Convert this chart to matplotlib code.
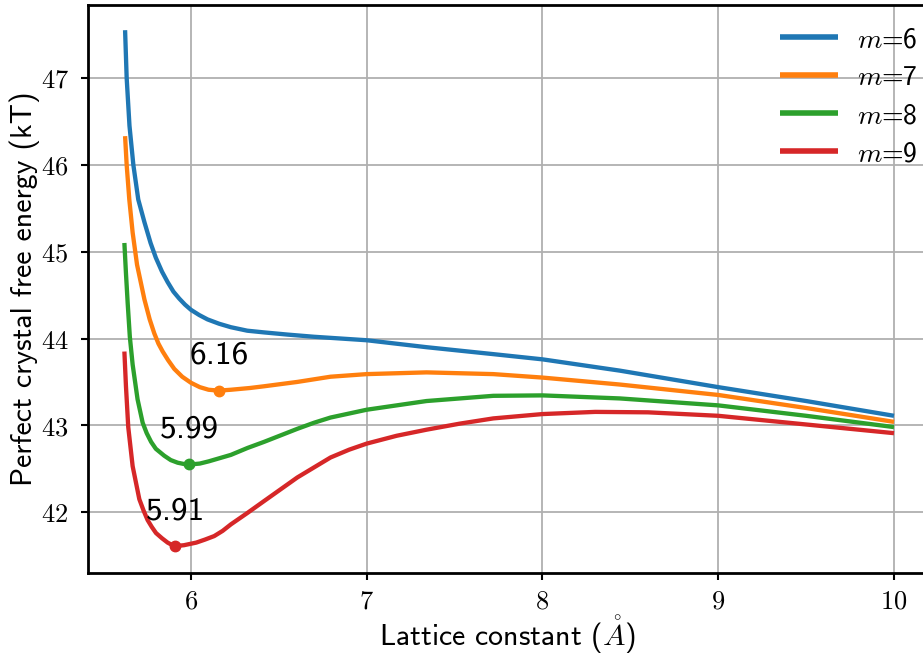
import matplotlib
matplotlib.use("Agg")
import matplotlib.pyplot as plt
from matplotlib.ticker import FuncFormatter, MultipleLocator

plt.rcParams['mathtext.fontset'] = 'cm'
plt.rcParams['axes.unicode_minus'] = False

# ---- data ----
labels = ["$m$=6", "$m$=7", "$m$=8", "$m$=9"]
colors = ["#1f77b4", "#ff7f0e", "#2ca02c", "#d62728"]

x_m6 = [5.625, 5.634, 5.650, 5.672, 5.700, 5.735, 5.770, 5.800, 5.835, 5.867, 5.900,
        5.933, 5.966, 6.000, 6.047, 6.094, 6.160, 6.227, 6.320, 6.417, 6.550, 6.700,
        7.000, 7.340, 7.720, 8.000, 8.440, 9.000, 9.500, 10.000]
y_m6 = [47.55, 47.00, 46.45, 46.00, 45.60, 45.34, 45.10, 44.93, 44.77, 44.65, 44.54,
        44.46, 44.39, 44.33, 44.27, 44.22, 44.17, 44.13, 44.09, 44.07, 44.045, 44.02,
        43.98, 43.90, 43.82, 43.76, 43.63, 43.44, 43.28, 43.11]

x_m7 = [5.625, 5.634, 5.649, 5.668, 5.693, 5.735, 5.765, 5.791, 5.815, 5.839, 5.870,
        5.905, 5.950, 6.000, 6.050, 6.100, 6.157, 6.227, 6.335, 6.416, 6.605, 6.794,
        7.000, 7.340, 7.720, 8.000, 8.440, 9.000, 9.500, 10.000]
y_m7 = [46.33, 46.00, 45.60, 45.22, 44.85, 44.45, 44.22, 44.06, 43.94, 43.85, 43.75,
        43.65, 43.56, 43.49, 43.44, 43.41, 43.40, 43.41, 43.43, 43.45, 43.50, 43.56,
        43.59, 43.61, 43.59, 43.55, 43.47, 43.35, 43.20, 43.04]

x_m8 = [5.621, 5.630, 5.640, 5.652, 5.668, 5.696, 5.725, 5.748, 5.773, 5.800, 5.848,
        5.885, 5.924, 5.960, 5.996, 6.050, 6.100, 6.227, 6.322, 6.416, 6.605, 6.700,
        6.794, 7.000, 7.340, 7.720, 8.000, 8.440, 9.000, 9.500, 10.000]
y_m8 = [45.10, 44.75, 44.40, 44.02, 43.70, 43.30, 43.03, 42.91, 42.81, 42.73, 42.65,
        42.60, 42.57, 42.555, 42.55, 42.56, 42.585, 42.66, 42.74, 42.81, 42.96, 43.03,
        43.09, 43.18, 43.28, 43.34, 43.345, 43.31, 43.23, 43.11, 42.98]

x_m9 = [5.621, 5.630, 5.643, 5.668, 5.706, 5.730, 5.753, 5.777, 5.801, 5.835, 5.867,
        5.890, 5.909, 5.960, 6.030, 6.080, 6.132, 6.180, 6.227, 6.320, 6.417, 6.605,
        6.794, 6.900, 7.000, 7.170, 7.340, 7.530, 7.720, 8.000, 8.300, 8.600, 9.000,
        9.500, 10.000]
y_m9 = [43.85, 43.45, 42.98, 42.53, 42.15, 42.02, 41.91, 41.83, 41.76, 41.70, 41.65,
        41.625, 41.61, 41.62, 41.65, 41.685, 41.725, 41.785, 41.86, 41.99, 42.13, 42.40,
        42.63, 42.72, 42.79, 42.88, 42.95, 43.02, 43.08, 43.13, 43.155, 43.15, 43.11,
        43.01, 42.91]

min_x = [6.16, 5.99, 5.91]
min_y = [43.40, 42.55, 41.61]
min_labels = ["6.16", "5.99", "5.91"]
min_colors = ["#ff7f0e", "#2ca02c", "#d62728"]

xs = [x_m6, x_m7, x_m8, x_m9]
ys = [y_m6, y_m7, y_m8, y_m9]

# ---- figure ----
W, H = 923, 654
fig = plt.figure(figsize=(W / 100, H / 100), dpi=100)
left, right, bottom, top = 88, 923, 573, 5
ax = fig.add_axes([left / W, (H - bottom) / H, (right - left) / W, (bottom - top) / H])

for x, y, lab, c in zip(xs, ys, labels, colors):
    ax.plot(x, y, color=c, lw=3.1, label=lab, solid_capstyle='butt',
            solid_joinstyle='round')

for mx, my, ml, mc in zip(min_x, min_y, min_labels, min_colors):
    ax.plot([mx], [my], 'o', color=mc, ms=7.5, zorder=5)
    ax.annotate(ml, (mx, my), xytext=(0, 15), textcoords='offset points',
                ha='center', va='bottom', fontsize=24, family='cmss10')

ax.set_xlim(5.414, 10.165)
ax.set_ylim(41.30, 47.84)
ax.xaxis.set_major_locator(MultipleLocator(1))
ax.yaxis.set_major_locator(MultipleLocator(1))
fmt = FuncFormatter(lambda v, p: f"${v:g}$")
ax.xaxis.set_major_formatter(fmt)
ax.yaxis.set_major_formatter(fmt)
ax.tick_params(labelsize=19, width=1.5, length=5, color='black')
ax.tick_params(axis='y', pad=9)
ax.tick_params(axis='x', pad=6)
ax.grid(True, color='#b0b0b0', lw=1.3)
ax.set_axisbelow(True)

for s in ['left', 'bottom', 'top']:
    ax.spines[s].set_linewidth(2)
ax.spines['right'].set_visible(False)

ax.set_xlabel(r"Lattice constant ($\mathring{A}$)", fontsize=21.5, family='cmss10')
ax.set_ylabel("Perfect crystal free energy (kT)", fontsize=21.5, family='cmss10')
ax.xaxis.set_label_coords((508 - left) / (right - left), -0.071)
ax.yaxis.set_label_coords((40 - left) / (right - left), 0.5)

leg = ax.legend(loc='upper right', bbox_to_anchor=(918 / W, 1 - 27 / H),
                bbox_transform=fig.transFigure, frameon=False, borderaxespad=0,
                borderpad=0, handlelength=2.1, handletextpad=0.7,
                labelspacing=0.47, prop={'family': 'cmss10', 'size': 20})
for line in leg.get_lines():
    line.set_linewidth(4)

fig.savefig("out.png", dpi=100)
